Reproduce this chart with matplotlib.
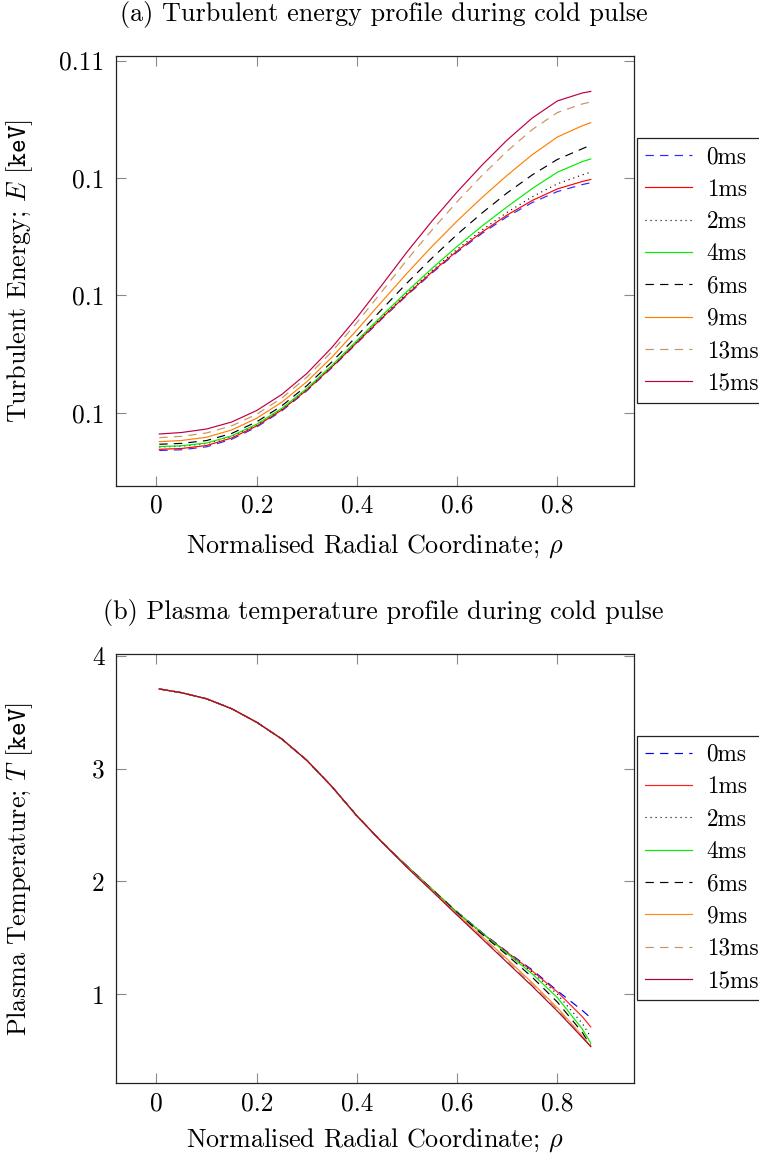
import matplotlib
matplotlib.use("Agg")
import matplotlib.pyplot as plt
from matplotlib.ticker import FixedLocator, FixedFormatter

plt.rcParams['font.family'] = ['cmr10', 'DejaVu Serif']
plt.rcParams['mathtext.fontset'] = 'cm'
plt.rcParams['axes.unicode_minus'] = False
plt.rcParams['lines.scale_dashes'] = False
plt.rcParams['axes.formatter.use_mathtext'] = True

# ---------------- data ----------------
rho = [0.0056, 0.05, 0.1, 0.15, 0.2, 0.25, 0.3, 0.35, 0.4, 0.45,
       0.5, 0.55, 0.6, 0.65, 0.7, 0.75, 0.8, 0.85, 0.8667]

labels = ['0ms', '1ms', '2ms', '4ms', '6ms', '9ms', '13ms', '15ms']

E_0ms = [0.093398, 0.093430, 0.093556, 0.093877, 0.094396, 0.095084, 0.095940, 0.096922, 0.097966, 0.099007,
         0.100007, 0.100958, 0.101845, 0.102647, 0.103358, 0.103958, 0.104424, 0.104723, 0.104801]
E_1ms = [0.093450, 0.093484, 0.093612, 0.093931, 0.094442, 0.095124, 0.095975, 0.096955, 0.097998, 0.099042,
         0.100043, 0.101001, 0.101895, 0.102704, 0.103428, 0.104046, 0.104536, 0.104855, 0.104940]
E_2ms = [0.093548, 0.093579, 0.093696, 0.093999, 0.094495, 0.095167, 0.096010, 0.096988, 0.098035, 0.099084,
         0.100097, 0.101066, 0.101970, 0.102795, 0.103543, 0.104204, 0.104753, 0.105138, 0.105251]
E_4ms = [0.093567, 0.093600, 0.093717, 0.094020, 0.094518, 0.095190, 0.096038, 0.097021, 0.098078, 0.099140,
         0.100170, 0.101157, 0.102091, 0.102961, 0.103779, 0.104555, 0.105248, 0.105703, 0.105813]
E_6ms = [0.093665, 0.093702, 0.093823, 0.094125, 0.094620, 0.095299, 0.096158, 0.097171, 0.098275, 0.099414,
         0.100532, 0.101598, 0.102599, 0.103517, 0.104371, 0.105135, 0.105792, 0.106250, 0.106402]
E_9ms = [0.093776, 0.093825, 0.093963, 0.094272, 0.094772, 0.095454, 0.096327, 0.097370, 0.098531, 0.099745,
         0.100948, 0.102094, 0.103172, 0.104177, 0.105121, 0.105996, 0.106747, 0.107229, 0.107357]
E_13ms = [0.093945, 0.094002, 0.094146, 0.094449, 0.094944, 0.095629, 0.096520, 0.097607, 0.098845, 0.100173,
          0.101518, 0.102793, 0.103993, 0.105116, 0.106150, 0.107067, 0.107789, 0.108157, 0.108238]
E_15ms = [0.094101, 0.094165, 0.094314, 0.094612, 0.095102, 0.095784, 0.096678, 0.097785, 0.099063, 0.100447,
          0.101853, 0.103173, 0.104408, 0.105558, 0.106623, 0.107559, 0.108284, 0.108624, 0.108688]

T_0ms = [3.705, 3.672, 3.618, 3.530, 3.410, 3.262, 3.073, 2.840, 2.580, 2.347,
         2.135, 1.930, 1.730, 1.545, 1.375, 1.215, 1.030, 0.855, 0.790]
T_1ms = [3.705, 3.672, 3.618, 3.530, 3.410, 3.262, 3.073, 2.840, 2.580, 2.347,
         2.135, 1.930, 1.725, 1.540, 1.370, 1.205, 1.020, 0.800, 0.710]
T_2ms = [3.705, 3.672, 3.618, 3.530, 3.410, 3.262, 3.073, 2.840, 2.580, 2.347,
         2.135, 1.930, 1.725, 1.540, 1.365, 1.195, 1.000, 0.740, 0.620]
T_4ms = [3.705, 3.672, 3.618, 3.530, 3.410, 3.262, 3.073, 2.840, 2.580, 2.347,
         2.135, 1.930, 1.725, 1.540, 1.360, 1.180, 0.970, 0.690, 0.566]
T_6ms = [3.705, 3.672, 3.618, 3.530, 3.410, 3.262, 3.073, 2.840, 2.580, 2.347,
         2.133, 1.927, 1.720, 1.530, 1.345, 1.150, 0.930, 0.660, 0.540]
T_9ms = [3.705, 3.672, 3.618, 3.530, 3.410, 3.262, 3.073, 2.840, 2.580, 2.347,
         2.128, 1.920, 1.710, 1.510, 1.310, 1.100, 0.880, 0.630, 0.537]
T_13ms = [3.705, 3.672, 3.618, 3.530, 3.410, 3.262, 3.073, 2.840, 2.580, 2.347,
          2.126, 1.917, 1.705, 1.500, 1.295, 1.085, 0.865, 0.620, 0.537]
T_15ms = [3.705, 3.672, 3.618, 3.530, 3.410, 3.262, 3.073, 2.840, 2.580, 2.347,
          2.123, 1.913, 1.700, 1.490, 1.280, 1.070, 0.850, 0.615, 0.535]

x_ticks = [0, 0.2, 0.4, 0.6, 0.8]
x_ticklabels = ['0', '0.2', '0.4', '0.6', '0.8']
E_ticks = [0.095, 0.1, 0.105, 0.11]
E_ticklabels = ['0.1', '0.1', '0.1', '0.11']
T_ticks = [1, 2, 3, 4]
T_ticklabels = ['1', '2', '3', '4']

# ---------------- styles ----------------
DASH = (0, (6.0, 4.5))
DOT = (0, (0.8, 2.8))
styles_top = [
    dict(color='#2a2aff', ls=DASH),
    dict(color='#ff0000', ls='-'),
    dict(color='#000000', ls=DOT),
    dict(color='#00ee00', ls='-'),
    dict(color='#000000', ls=DASH),
    dict(color='#ff8000', ls='-'),
    dict(color='#c8935e', ls=DASH),
    dict(color='#bf0040', ls='-'),
]
styles_bot = [
    dict(color='#0000ff', ls=DASH),
    dict(color='#ff2020', ls='-'),
    dict(color='#000000', ls=DOT),
    dict(color='#00ee00', ls='-'),
    dict(color='#000000', ls=DASH),
    dict(color='#ff8c1a', ls='-'),
    dict(color='#c8935e', ls=DASH),
    dict(color='#a8003a', ls='-'),
]

W, H = 759, 1160
fig = plt.figure(figsize=(W / 100, H / 100), dpi=100)

FST = 18.3      # tick labels
FSG = 16.7      # legend
FSL = 18.8      # axis labels / titles
LW = 0.85


def make_axes(top, bottom):
    left, right = 115.7, 633.5
    return fig.add_axes([left / W, 1 - bottom / H, (right - left) / W, (bottom - top) / H])


def style_axes(ax, xt, xtl, yt, ytl, xlim, ylim):
    ax.set_xlim(*xlim)
    ax.set_ylim(*ylim)
    ax.xaxis.set_major_locator(FixedLocator(xt))
    ax.xaxis.set_major_formatter(FixedFormatter(xtl))
    ax.yaxis.set_major_locator(FixedLocator(yt))
    ax.yaxis.set_major_formatter(FixedFormatter(ytl))
    ax.tick_params(direction='in', length=7.5, width=0.8, color='#8a8a8a',
                   top=True, right=True, labelsize=FST)
    ax.tick_params(axis='x', pad=6)
    ax.tick_params(axis='y', pad=8)
    for sp in ax.spines.values():
        sp.set_linewidth(0.9)
        sp.set_color('#222222')


def add_legend(ax, top_px):
    leg = ax.legend(loc='upper left', bbox_to_anchor=(637 / W, 1 - top_px / H),
                    bbox_transform=fig.transFigure, borderaxespad=0,
                    fontsize=FSG, frameon=True, fancybox=False, shadow=False,
                    handlelength=2.0, handletextpad=0.65, labelspacing=0.44,
                    borderpad=0.35)
    fr = leg.get_frame()
    fr.set_edgecolor('#222222')
    fr.set_linewidth(0.9)
    fr.set_alpha(1)
    return leg


# ---- top panel ----
ax1 = make_axes(55.7, 485.7)
E_series = [E_0ms, E_1ms, E_2ms, E_4ms, E_6ms, E_9ms, E_13ms, E_15ms]
for lab, ys, st in zip(labels, E_series, styles_top):
    ax1.plot(rho, ys, lw=LW, label=lab, **st)
style_axes(ax1, x_ticks, x_ticklabels, E_ticks, E_ticklabels,
           (-0.0814, 0.952), (0.0919, 0.11021))
add_legend(ax1, 138)
ax1.text(0.5, -0.14, r'Normalised Radial Coordinate; $\rho$', transform=ax1.transAxes,
         ha='center', va='center', fontsize=FSL)
ax1.text(-0.185, 0.5, r'Turbulent Energy; $E$ [$\mathtt{keV}$]', transform=ax1.transAxes,
         ha='center', va='center', rotation=90, fontsize=FSL)
fig.text(383.6 / W, 1 - 14 / H, '(a) Turbulent energy profile during cold pulse',
         ha='center', va='center', fontsize=FSL)

# ---- bottom panel ----
ax2 = make_axes(654.0, 1083.3)
T_series = [T_0ms, T_1ms, T_2ms, T_4ms, T_6ms, T_9ms, T_13ms, T_15ms]
for lab, ys, st in zip(labels, T_series, styles_bot):
    ax2.plot(rho, ys, lw=LW, label=lab, **st)
style_axes(ax2, x_ticks, x_ticklabels, T_ticks, T_ticklabels,
           (-0.0814, 0.952), (0.21, 4.015))
add_legend(ax2, 735.7)
ax2.text(0.5, -0.132, r'Normalised Radial Coordinate; $\rho$', transform=ax2.transAxes,
         ha='center', va='center', fontsize=FSL)
ax2.text(-0.185, 0.5, r'Plasma Temperature; $T$ [$\mathtt{keV}$]', transform=ax2.transAxes,
         ha='center', va='center', rotation=90, fontsize=FSL)
fig.text(383.6 / W, 1 - 612 / H, '(b) Plasma temperature profile during cold pulse',
         ha='center', va='center', fontsize=FSL)

fig.savefig('out.png', dpi=100, facecolor='white')
